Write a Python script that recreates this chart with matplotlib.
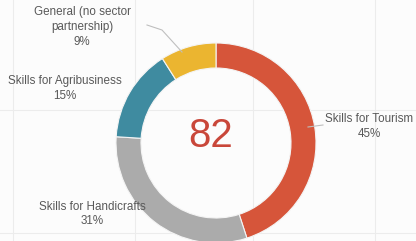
import matplotlib
matplotlib.use("Agg")
import matplotlib.pyplot as plt

# Data
categories = ["Skills for Tourism", "Skills for Handicrafts",
              "Skills for Agribusiness", "General (no sector\npartnership)"]
shares = [45, 31, 15, 9]
colors = ["#D6553A", "#ABABAB", "#3F8BA0", "#EBB530"]
total_label = "82"

plt.rcParams["font.family"] = ["Liberation Sans", "DejaVu Sans"]

W, H = 416, 241
fig = plt.figure(figsize=(W / 100, H / 100), dpi=100)
fig.patch.set_facecolor("#FCFCFC")
ax = fig.add_axes([0, 0, 1, 1])

# faint background grid
for gx in [13, 135, 253, 375]:
    ax.axvline(gx, color="#ECECEC", linewidth=0.8, zorder=0)
for gy in [131, 8]:
    ax.axhline(gy, color="#ECECEC", linewidth=0.8, zorder=0)

cx, cy, r = 216, 98, 100
ax.pie(shares, colors=colors, startangle=90, counterclock=False,
       center=(cx, cy), radius=r, frame=True,
       wedgeprops=dict(width=25, edgecolor="#F4F4F4", linewidth=0.8))
ax.set_xlim(0, W)
ax.set_ylim(0, H)
ax.set_aspect("equal")
ax.axis("off")

ax.text(211, 94, total_label, ha="center", va="baseline",
        fontsize=29, color="#C9473A")

label_pos = [(369, 114.5), (92, 27), (65, 152.5), (82, 214)]
txt_color = "#595959"
for name, share, (tx, ty) in zip(categories, shares, label_pos):
    ax.text(tx, ty, f"{name}\n{share}%", ha="center", va="center",
            fontsize=8.4, color=txt_color, linespacing=1.3)

# leader lines
ax.plot([147, 162, 182], [216, 211, 189], color="#BFBFBF", linewidth=0.8)
ax.plot([308, 323], [114, 116], color="#BFBFBF", linewidth=0.8)

fig.savefig("out.png", dpi=100, facecolor=fig.get_facecolor())
